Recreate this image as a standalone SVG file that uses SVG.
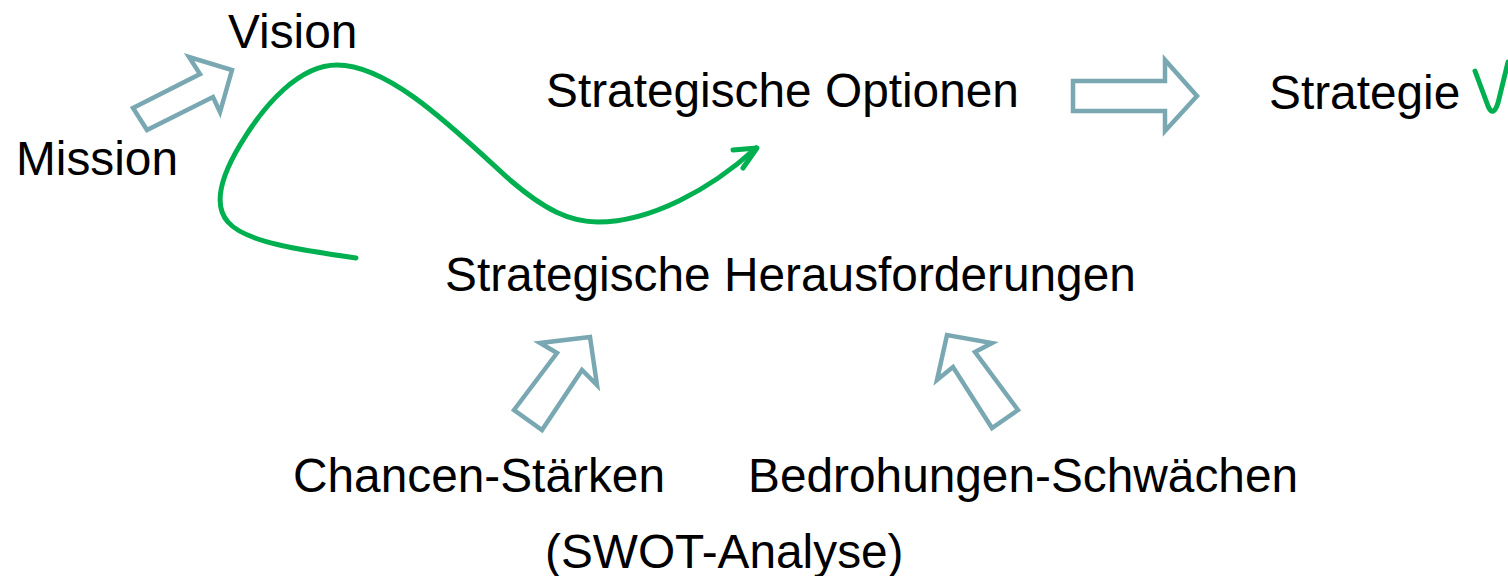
<svg xmlns="http://www.w3.org/2000/svg" width="1508" height="576" viewBox="0 0 1508 576">
<style>
text{font-family:"Liberation Sans",Arial,sans-serif;font-size:47.8px;fill:#000}
.blk{fill:#fff;stroke:#79A8B2;stroke-width:4.5;stroke-linejoin:miter}
.grn{fill:none;stroke:#00B050;stroke-width:5;stroke-linecap:round;stroke-linejoin:round}
</style>
<rect width="1508" height="576" fill="#fff"/>
<g id="mission"><text x="16" y="175">Mission</text></g>
<g id="vision"><text x="228" y="48">Vision</text></g>
<g id="optionen"><text x="546" y="107">Strategische Optionen</text></g>
<g id="strategie"><text x="1269" y="109">Strategie</text>
<path class="grn" d="M1475,71 L1488,106 Q1493,118 1498,103 L1508,62"/></g>
<g id="herausforderungen"><text x="445" y="291">Strategische Herausforderungen</text></g>
<g id="chancen"><text x="293" y="492">Chancen-Stärken</text></g>
<g id="bedrohungen"><text x="748" y="492">Bedrohungen-Schwächen</text></g>
<g id="swot"><text x="545" y="568">(SWOT-Analyse)</text></g>
<g id="connectors">
<polygon class="blk" points="133,108 200,74 189,57 232,70 220,112 213,97 147,130"/>
<polygon class="blk" points="1073,81 1165,81 1165,60 1197,96 1165,131 1165,111 1073,111"/>
<polygon class="blk" points="514,410 557,353 540,343 590,337 597,385 582,370 542,430"/>
<polygon class="blk" points="1018,410 975,352 992,343 947,335 937,380 953,367 992,428"/>
<path class="grn" d="M356,258 C300,250 245,242 228,222 C212,204 222,175 240,145 C265,103 300,65 337,65 C390,65 455,130 510,180 C545,210 570,222 598,222 C650,222 710,190 756,148"/>
<path class="grn" d="M733,150 L757,148 L743,168"/>
</g>
</svg>
